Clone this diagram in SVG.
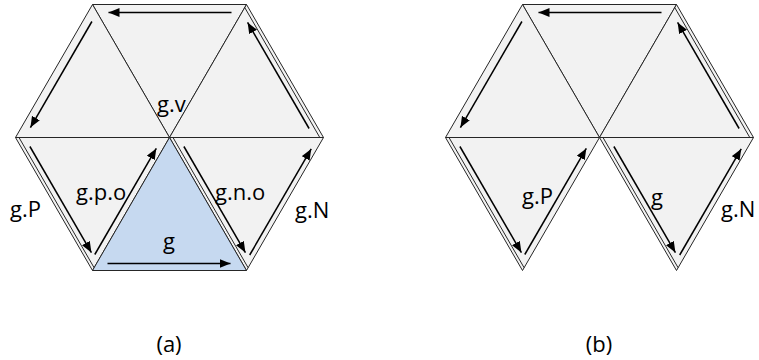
<svg xmlns="http://www.w3.org/2000/svg" width="759" height="360" viewBox="0 0 759 360">
<defs>
<style>
.tri{fill:#f2f2f2;stroke:#262626;stroke-width:1;stroke-linejoin:miter}
.blue{fill:#c6d9f0;stroke:#262626;stroke-width:1}
.inset{fill:none;stroke:#262626;stroke-width:1}
.arr{fill:none;stroke:#000;stroke-width:1.5;marker-end:url(#ah)}
.lbl{font-family:"Open Sans","Liberation Sans",sans-serif;font-size:22px;fill:#000}
</style>
<marker id="ah" markerUnits="userSpaceOnUse" markerWidth="12" markerHeight="10" refX="11" refY="4.5" orient="auto">
<path d="M0,0 L11,4.5 L0,9 z" fill="#000"/>
</marker>
</defs>
<rect width="759" height="360" fill="#fff"/>
<g id="diagram-a">
<g id="a-top"><polygon class="tri" points="92.5,4.5 246.5,4.5 169.5,137.5"/></g>
<g id="a-tl"><polygon class="tri" points="92.5,4.5 15.5,137.5 169.5,137.5"/></g>
<g id="a-tr"><polygon class="tri" points="246.5,4.5 323.5,137.5 169.5,137.5"/><line class="inset" x1="244.6" y1="7.3" x2="319.8" y2="137.5"/></g>
<g id="a-bl"><polygon class="tri" points="15.5,137.5 92.5,270.5 169.5,137.5"/><line class="inset" x1="19" y1="137.5" x2="94.1" y2="267.7"/></g>
<g id="a-br"><polygon class="tri" points="323.5,137.5 246.5,270.5 169.5,137.5"/><line class="inset" x1="173" y1="137.5" x2="248.1" y2="267.7"/></g>
<g id="a-g"><polygon class="blue" points="92.5,270.5 246.5,270.5 169.5,137.5"/></g>
</g>
<g id="diagram-b">
<g id="b-top"><polygon class="tri" points="522.5,4.5 676.5,4.5 599.5,137.5"/></g>
<g id="b-tl"><polygon class="tri" points="522.5,4.5 445.5,137.5 599.5,137.5"/></g>
<g id="b-tr"><polygon class="tri" points="676.5,4.5 753.5,137.5 599.5,137.5"/><line class="inset" x1="674.6" y1="7.3" x2="749.8" y2="137.5"/></g>
<g id="b-bl"><polygon class="tri" points="445.5,137.5 522.5,270.5 599.5,137.5"/><line class="inset" x1="449" y1="137.5" x2="524.1" y2="267.7"/></g>
<g id="b-br"><polygon class="tri" points="753.5,137.5 676.5,270.5 599.5,137.5"/><line class="inset" x1="603" y1="137.5" x2="678.1" y2="267.7"/></g>
</g>
<g id="connectors">
<line class="arr" x1="231.5" y1="12.5" x2="108.5" y2="12.5"/>
<line class="arr" x1="91.9" y1="21.5" x2="30.4" y2="127.6"/>
<line class="arr" x1="29.9" y1="146.5" x2="91.4" y2="252.6"/>
<line class="arr" x1="94.8" y1="254.5" x2="156.3" y2="148.4"/>
<line class="arr" x1="107.5" y1="263.5" x2="230.5" y2="263.5"/>
<line class="arr" x1="183.9" y1="146.5" x2="245.4" y2="252.6"/>
<line class="arr" x1="249.7" y1="255" x2="311.2" y2="148.9"/>
<line class="arr" x1="309.1" y1="128.5" x2="247.6" y2="22.4"/>
<line class="arr" x1="661.5" y1="12.5" x2="538.5" y2="12.5"/>
<line class="arr" x1="521.9" y1="21.5" x2="460.4" y2="127.6"/>
<line class="arr" x1="459.9" y1="146.5" x2="521.4" y2="252.6"/>
<line class="arr" x1="524.8" y1="254.5" x2="586.3" y2="148.4"/>
<line class="arr" x1="613.9" y1="146.5" x2="675.4" y2="252.6"/>
<line class="arr" x1="679.7" y1="255" x2="741.2" y2="148.9"/>
<line class="arr" x1="739.1" y1="128.5" x2="677.6" y2="22.4"/>
</g>
<g id="labels">
<text class="lbl" x="157" y="112">g.v</text>
<text class="lbl" x="76" y="200">g.p.o</text>
<text class="lbl" x="10" y="217">g.P</text>
<text class="lbl" x="215" y="200">g.n.o</text>
<text class="lbl" x="295" y="218">g.N</text>
<text class="lbl" x="163" y="249">g</text>
<text class="lbl" x="522" y="204">g.P</text>
<text class="lbl" x="651" y="205">g</text>
<text class="lbl" x="721" y="217">g.N</text>
<text class="lbl" x="169" y="352" text-anchor="middle">(a)</text>
<text class="lbl" x="599" y="352" text-anchor="middle">(b)</text>
</g>
</svg>
